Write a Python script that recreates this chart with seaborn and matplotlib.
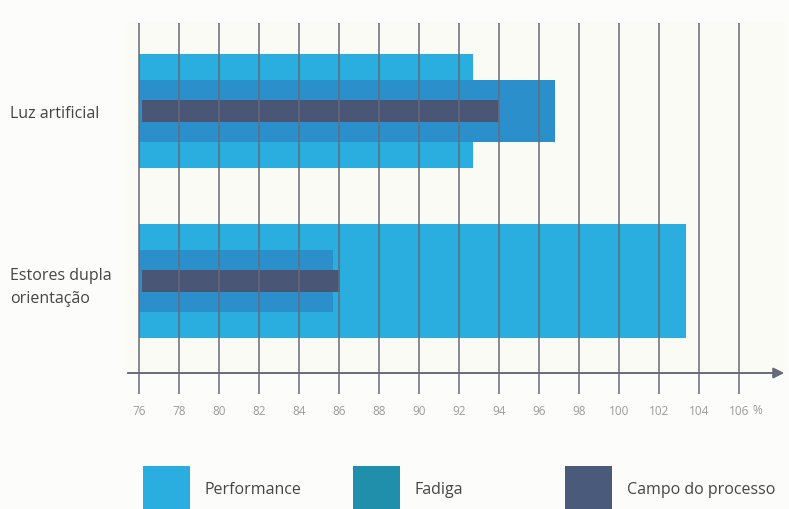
import numpy as np
import matplotlib
matplotlib.use('Agg')
import matplotlib.pyplot as plt
from matplotlib.patches import Rectangle
import seaborn as sns

# dados
categorias = ['Luz artificial', 'Estores dupla\norientação']
performance = [92.7, 103.35]
fadiga = [96.8, 85.7]
campo = [94.0, 86.05]
ticks = list(range(76, 107, 2))
base = 76

cor_perf = '#2aaee0'
cor_fad = '#2b8fcb'
cor_campo = '#4a5676'
cor_linha = '#676b78'

sns.set_theme(style='white')
plt.rcParams['font.family'] = ['Open Sans', 'DejaVu Sans']

fig = plt.figure(figsize=(7.89, 5.1), dpi=100, facecolor='#fcfcfa')
ax = fig.add_axes([125 / 789, (510 - 374) / 510, 662 / 789, 350 / 510])
ax.set_facecolor('#fbfbf6')

def barras(valores, cor, largura, inicio=base):
    n = len(ax.patches)
    sns.barplot(x=valores, y=categorias, orient='h', color=cor, width=largura,
                saturation=1, ax=ax, zorder=1, edgecolor='none', linewidth=0)
    # barras começam em 76
    for p in ax.patches[n:]:
        w = p.get_width()
        p.set_x(inicio)
        p.set_width(w - inicio)

barras(performance, cor_perf, 0.67)
barras(fadiga, cor_fad, 0.37)
barras(campo, cor_campo, 0.13, 76.15)

ax.set_xlim(75.3, 108.4)
ax.set_ylim(1.541, -0.518)
ax.set_xticks(ticks)
ax.set_xticklabels([str(t) for t in ticks])
ax.set_axisbelow(False)
ax.grid(axis='x', color=cor_linha, lw=1.1)
ax.grid(axis='y', visible=False)
for s in ax.spines.values():
    s.set_visible(False)

ax.tick_params(axis='x', direction='out', length=15, width=1.1, color=cor_linha,
               labelsize=8.5, labelcolor='#9a9a9a', pad=7, bottom=True)
ax.tick_params(axis='y', length=0, labelsize=11.5, labelcolor='#454545', pad=83)
for lab in ax.get_yticklabels():
    lab.set_ha('left')
    lab.set_multialignment('left')
    lab.set_linespacing(1.55)
ax.set_xlabel('')
ax.set_ylabel('')

# eixo com seta
ax.annotate('', xy=(1.0, 0), xytext=(0, 0), xycoords='axes fraction',
            arrowprops=dict(arrowstyle='-|>', color=cor_linha, lw=1.4, mutation_scale=16))
ax.text(106.9, -36 / 350, '%', transform=ax.get_xaxis_transform(), ha='center',
        va='center', fontsize=8.5, color='#9a9a9a', clip_on=False)

# legenda
itens = [('Performance', '#2aaee0', 143, 204),
         ('Fadiga', '#1f8fab', 353, 414),
         ('Campo do processo', '#4a5a7a', 565, 627)]
for nome, cor, px, tx in itens:
    fig.add_artist(Rectangle((px / 789, 0), 47 / 789, 43 / 510, transform=fig.transFigure,
                             facecolor=cor, edgecolor='none'))
    fig.text(tx / 789, (510 - 490) / 510, nome, fontsize=11.5, color='#454545', va='center')

fig.savefig('out.png', dpi=100, facecolor=fig.get_facecolor())
